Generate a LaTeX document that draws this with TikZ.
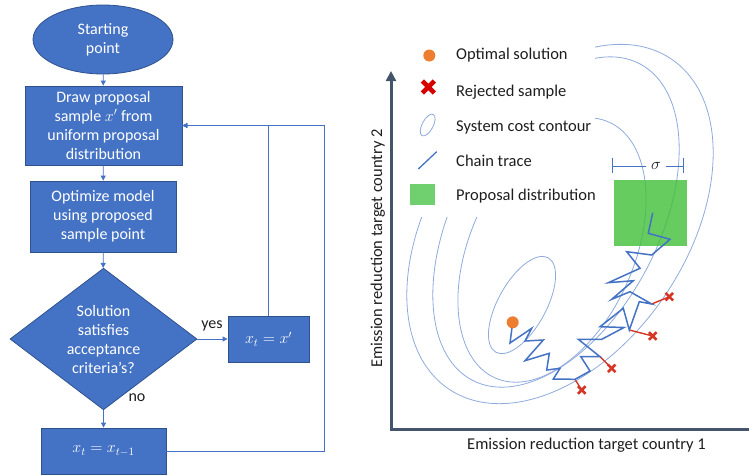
\RequirePackage{fix-cm}
\documentclass[tikz,border=0pt]{standalone}
\usepackage{fontspec}
\setmainfont{Carlito}
\usetikzlibrary{shapes.geometric,arrows.meta,calc}

\definecolor{flowblue}{RGB}{68,114,196}
\definecolor{flowedge}{RGB}{47,82,143}
\definecolor{contourblue}{RGB}{143,170,220}
\definecolor{rejectred}{RGB}{214,54,38}
\definecolor{legendred}{RGB}{214,0,0}
\definecolor{optorange}{RGB}{237,125,49}
\definecolor{axisgray}{RGB}{68,84,106}
\definecolor{propgreen}{RGB}{64,191,56}
\definecolor{legendgreen}{RGB}{112,208,112}
\definecolor{inktext}{RGB}{30,30,30}

\newcommand\flowfont{\fontsize{16}{19}\selectfont}
\newcommand\plotfont{\fontsize{16.5}{19}\selectfont}

\tikzset{
  flowbox/.style={rectangle, draw=flowedge, line width=0.8pt, fill=flowblue,
    text=white, align=center, font=\flowfont, inner sep=0pt},
  flowlink/.style={draw=flowblue, line width=0.8pt, -{Triangle[length=5pt,width=5pt]}},
  flowlabel/.style={text=inktext, font=\flowfont, inner sep=0pt},
  contourline/.style={draw=contourblue, line width=0.8pt},
  chainline/.style={draw=flowblue, line width=1.5pt, line join=miter},
  rejectline/.style={draw=rejectred, line width=1.4pt},
  legendtext/.style={text=inktext, font=\plotfont, anchor=base west, inner sep=0pt},
  axisline/.style={draw=axisgray, line width=3pt, line join=miter},
  rejmark/.pic={\draw[rejectred, line width=2.6pt] (-3.8,-3.8)--(3.8,3.8) (-3.8,3.8)--(3.8,-3.8);},
  legmark/.pic={\draw[legendred, line width=4.6pt] (-6,-6)--(6,6) (-6,6)--(6,-6);}
}

\begin{document}
\begin{tikzpicture}[x=1pt,y=-1pt]
\useasboundingbox (0,0) rectangle (749,475);

% ---------------- flowchart ----------------
\node[flowbox, shape=ellipse, minimum width=140pt, minimum height=69pt] (start) at (103,39.5)
  {Starting\\point};
\node[flowbox, minimum width=157pt, minimum height=79pt] (draw) at (103.5,125.5)
  {Draw proposal\\sample $x'$ from\\uniform proposal\\distribution};
\node[flowbox, minimum width=146pt, minimum height=71pt] (optim) at (103,216.5)
  {Optimize model\\using proposed\\sample point};
\node[flowbox, shape=diamond, minimum width=187pt, minimum height=138pt] (accept) at (103.5,339)
  {Solution\\satisfies\\acceptance\\criteria's?};
\node[flowbox, minimum width=81pt, minimum height=46pt] (keepnew) at (268.5,339)
  {$x_t = x'$};
\node[flowbox, minimum width=125pt, minimum height=46pt] (keepold) at (103.5,451)
  {$x_t = x_{t-1}$};
\coordinate (loopright) at (324,125.5);

\draw[flowlink] (start) -- (draw);
\draw[flowlink] (draw) -- (optim);
\draw[flowlink] (optim) -- (accept);
\draw[flowlink] (accept) -- (keepnew);
\draw[flowlink] (accept) -- (keepold);
\draw[flowlink] (keepnew.north) |- (draw.east);
\draw[flowlink] (keepold.east) -| (loopright) -- (draw.east);
\node[flowlabel] (yeslbl) at (212,326) {yes};
\node[flowlabel] (nolbl) at (137,398) {no};

% ---------------- cost contours ----------------
\begin{scope}
  \clip (391,217) -- (595,217) -- (595,0) -- (749,0) -- (749,475) -- (391,475) -- cycle;
  \draw[contourline, rotate around={56:(560,224)}] (560,224) ellipse [x radius=199pt, y radius=127pt];
  \draw[contourline, rotate around={62:(556,222)}] (556,222) ellipse [x radius=179pt, y radius=102pt];
  \draw[contourline, rotate around={66:(552,250)}] (552,250) ellipse [x radius=140pt, y radius=82pt];
\end{scope}
\draw[contourline, rotate around={61:(522,305)}] (522,305) ellipse [x radius=54pt, y radius=24pt];

% proposal distribution
\fill[propgreen, fill opacity=0.8] (614,180) rectangle (687,246);
\draw[draw=flowblue, line width=0.9pt]
  (612,158) -- (612,173) (683,158) -- (683,173)
  (612,166) -- (646,166) (666,166) -- (683,166);
\node[text=inktext, font=\plotfont, inner sep=0pt] (sigmalbl) at (656,166) {$\sigma$};

% ---------------- chain trace ----------------
\coordinate (opt) at (512.7,322.3);
\coordinate (rj1) at (575,379.3);   \coordinate (x1) at (581.7,390);
\coordinate (rj2) at (600,356.7);   \coordinate (x2) at (611.7,368.3);
\coordinate (rj3) at (629.3,330);   \coordinate (x3) at (652.7,336);
\coordinate (rj4) at (651.7,304);   \coordinate (x4) at (669.3,296.7);

\draw[rejectline] (rj1) -- (x1) (rj2) -- (x2) (rj3) -- (x3) (rj4) -- (x4);
\draw[chainline] plot coordinates {
  (512.7,322.3) (510,343) (531.7,328.3) (525,341) (543.3,340) (525,360.7)
  (549.3,353.3) (546.7,370) (560,368.3) (553.3,379) (575,379.3) (590,371)
  (580.7,356.5) (600,356.7) (578.3,339.3) (601.7,339.3) (624,327.5) (600,326.7)
  (623.3,308.3) (629.3,330) (639.3,301.7) (651.7,304) (630,291.7) (611.7,299.3)
  (633.3,280.7) (608.3,282.7) (640,268.3) (626.7,251.7) (651.7,255) (670,239.3)
  (648.3,233.3) (652.7,212.7)};
\pic at (x1) {rejmark};
\pic at (x2) {rejmark};
\pic at (x3) {rejmark};
\pic at (x4) {rejmark};
\fill[optorange] (opt) circle (6pt);

% ---------------- legend ----------------
\fill[optorange] (429.3,55.5) circle (6pt);
\pic at (428.3,87) {legmark};
\draw[contourline, rotate around={62:(427.7,125)}] (427.7,125) ellipse [x radius=12pt, y radius=5.5pt];
\draw[draw=flowblue, line width=1.3pt] (418.3,169) -- (436.7,151.7);
\fill[legendgreen] (410,184.3) rectangle (435,205);

\node[legendtext] (lgopt) at (456,59) {Optimal solution};
\node[legendtext] (lgrej) at (456,96.5) {Rejected sample};
\node[legendtext] (lgcont) at (456,131.5) {System cost contour};
\node[legendtext] (lgchain) at (456,166) {Chain trace};
\node[legendtext] (lgprop) at (456,200) {Proposal distribution};

% ---------------- axes ----------------
\coordinate (origin) at (391,429);
\coordinate (ytop) at (391,71);
\coordinate (xend) at (752,429);
\draw[axisline, -{Triangle[length=10pt,width=10pt]}] (xend) -- (origin) -- (ytop);
\node[text=inktext, font=\plotfont, anchor=base, inner sep=0pt] (xlabel) at (586.5,449)
  {Emission reduction target country 1};
\node[text=inktext, font=\plotfont, anchor=base west, rotate=90, inner sep=0pt] (ylabel) at (382,368)
  {Emission reduction target country 2};
\end{tikzpicture}
\end{document}
